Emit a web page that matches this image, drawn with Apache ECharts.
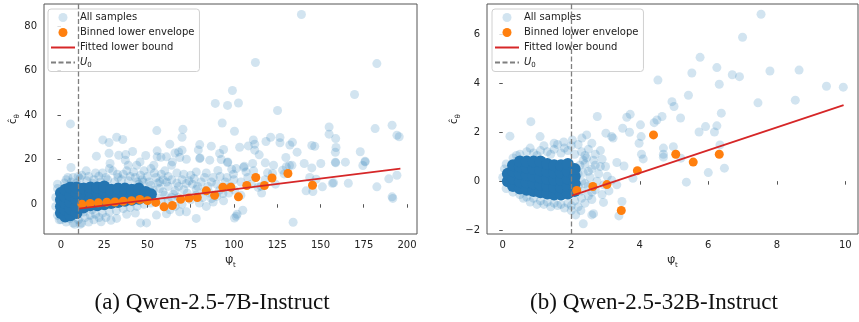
<!DOCTYPE html>
<html>
<head>
<meta charset="utf-8">
<script src="https://cdn.jsdelivr.net/npm/echarts@6/dist/echarts.min.js"></script>
<style>
  html, body { margin: 0; padding: 0; background: #fff; }
  #chart { width: 859px; height: 322px; }
</style>
</head>
<body>
<div id="chart"></div>
<script>
// ---- (a) Qwen-2.5-7B-Instruct ----
const xTicksA = [0, 25, 50, 75, 100, 125, 150, 175, 200];
const yTicksA = [0, 20, 40, 60, 80];
const u0A = 10;
// lower envelope (bin centre, lower value)
const envelopeA = [
  [12.1, 0.0], [16.9, 0.3], [21.6, 0.6], [26.5, 0.9], [31.2, 1.0], [36.0, 1.3], [40.8, 1.6],
  [45.6, 2.1], [50.0, 1.6], [54.8, 0.8], [59.6, -1.2], [64.4, -0.6], [69.2, 2.2], [74.0, 2.8],
  [78.8, 3.0], [84.0, 6.0], [88.8, 4.0], [93.6, 7.6], [98.2, 7.6], [102.6, 3.3], [107.4, 8.4],
  [112.6, 12.0], [117.6, 8.4], [122.0, 11.8], [131.2, 13.8], [145.4, 8.5]
];
const fitA = [[10.3, -2.0], [196.2, 16.0]];
// dense core of the sample cloud
const coreA = [
  [0, -4], [0, -1], [0, 2], [0, 5],
  [2.5, -5.5], [2.5, -2.5], [2.5, 0.5], [2.5, 3.5], [2.5, 6.5],
  [5.5, -5], [5.5, -2], [5.5, 1], [5.5, 4], [5.5, 7.5],
  [9, -4], [9, -1], [9, 2], [9, 5], [9, 7.5],
  [13, -1.5], [13, 1.5], [13, 4.5], [13, 7],
  [17, -0.5], [17, 2.5], [17, 5.5], [17, 7.5],
  [21, -0.5], [21, 2.5], [21, 5.5], [21, 7.5],
  [25, 0], [25, 3], [25, 6], [25, 8],
  [29, 0.5], [29, 3.5], [29, 6.5],
  [33, 1], [33, 4], [33, 7],
  [37, 1.5], [37, 4.5], [37, 7],
  [41, 2], [41, 4.5], [41, 6.5],
  [45, 2.5], [45, 5], [45, 7],
  [49, 3], [49, 5.5], [52, 4.5]
];
const samplesA = [
  [139, 85.3], [112.4, 63.7], [182.6, 63.2], [99.1, 51.1], [169.7, 49.3], [89.2, 45.3], [96.3, 44.4],
  [102.6, 45.5], [125.2, 42.1], [5.5, 36.1], [93.2, 36.5], [100.3, 32.8], [55.4, 33.1], [70.5, 33.7],
  [155, 34.7], [191.4, 35.5], [181.6, 34], [155, 31.5], [194.2, 31], [158.8, 29.5], [195.5, 30.3],
  [24.2, 28.9], [27.8, 27.7], [32.2, 30.1], [35.7, 29.1], [70, 30.1], [70, 24.3], [62.9, 27], [55.6, 24],
  [86.9, 26.1], [94, 24.6], [103.3, 25.6], [108.3, 26.2], [111.2, 28.9], [112, 27], [112, 24.3],
  [114.6, 22.2], [118.5, 28.2], [121.2, 30.1], [126.6, 30], [126.6, 27.6], [132.3, 26.6], [133.8, 27.8],
  [136.5, 23.4], [145, 26.4], [146.7, 26], [158.6, 23.3], [159, 25.5], [173, 23.6], [130, 21],
  [20.5, 21.6], [27.8, 22.9], [37.4, 22.3], [41.4, 23.7], [49, 21.9], [55.6, 21.3], [57.8, 21.1],
  [65.9, 23], [68, 23.5], [80.2, 26.8], [79.4, 24.4], [80.4, 20.8],
  [118.1, 18.6], [122.9, 17.5], [96.3, 18.7], [132.1, 17.4], [130.2, 16.8], [140.6, 18.3], [145, 16.3],
  [158.8, 18.6], [175.8, 19], [174.5, 17.4], [105.6, 16.6], [98.7, 15.7], [107, 14.5], [111.4, 15],
  [119.4, 14.1], [129, 13.6], [143.8, 12], [147.5, 11.2], [189.5, 11.4], [156.9, 9.4], [166.1, 9.4],
  [151.1, 7.8], [182.6, 7.8], [141.7, 6], [145.6, 5.7], [191.4, 3.3], [191.8, 2.6], [115.6, 8.1],
  [113.9, 7.6], [100.3, 6.3], [100.3, -6.2], [101.8, -4.5], [134.2, -8.1],
  [5.8, 16.5], [33.4, 22], [28.4, 18.3], [14.6, 15], [21.9, 12.6], [18.6, 9.3], [32.6, 13.5],
  [37.2, 19.8], [38.9, 17.5], [43.8, 17.5], [45.7, 19], [53.7, 17.5], [61, 21.3], [63.9, 17.5],
  [64.4, 19], [68.7, 21], [72.5, 20.2], [80.2, 20.5], [86, 19.8], [91.7, 22.8], [92.6, 20.1],
  [96.4, 19], [101.3, 16], [106, 17.1], [110.8, 18.3], [78.2, 14.5], [84, 14], [90.7, 15.2],
  [99.7, 13.5], [72.5, 9.3], [78.2, 6.6], [57.1, 10], [47.5, 10], [53.3, 6.3], [91.7, 6.3],
  [93.6, 4.8], [68.6, -3.4], [72.5, -3.4], [78.2, -6.4], [61, -4.3], [55.2, -4.9], [49.5, -8.4],
  [46, -8.4], [32.2, -6.4], [23.2, -7.9], [28.9, -7.2], [11.1, -9], [101.3, -5.4], [105.1, -2.7],
  [194.2, 13], [157.6, 9.6], [158.6, 18.9], [164.4, 18.9], [175.8, 19.3], [150.2, 18.3],
  [133.5, 17.5], [128.1, 15.3], [122.3, 13.8],
  [3, 11], [7, 12], [11, 11.5], [15, 10.5], [19, 11], [23, 10], [27, 11], [31, 10], [35, 11],
  [39, 10.5], [43, 12], [47, 11], [51, 10], [55, 12], [59, 11], [24, 14], [30, 15], [36, 13.5],
  [42, 14.5], [48, 15], [54, 14], [60, 15], [45, 9], [52, 8.5], [57, 7], [60, 4], [62, 8], [58, 1],
  [64, 3], [66, 6], [70, 11], [73, 5], [75, 13], [62, 12.5], [67, 14], [81, 10], [85, 8], [88, 12],
  [76, 9], [82, 3], [86, 5], [95, 10], [98, 8], [104, 10], [108, 12], [104, 4], [110, 9], [118, 11],
  [124, 9], [116, 5], [88, 1], [84, -1], [94, 1.5], [70, 0], [66, -1], [63, -2.5],
  [0, -7], [3, -8], [7, -8.5], [10, -7], [14, -6], [17, -5], [20, -4.5], [24, -4], [28, -3.5],
  [32, -3], [36, -2], [40, -1.5], [44, -1], [48, 0], [52, 0.5], [13, -3.5], [18, -2.5], [-2, -5],
  [-3, 3], [-2, 7], [2, 9.5], [6, 10], [9, 9.5], [38, -4.5], [43, -4], [16, -8], [26, -6],
  [12, 13], [16, 12.5], [20, 14], [26, 12], [28, 16], [33, 12], [38, 15], [40, 12.5], [44, 10],
  [46, 13], [50, 12.5], [52, 16], [56, 9.5], [58, 13.5], [61, 10], [64, 11], [68, 8], [71, 13.5],
  [74, 10.5], [77, 11.5], [79, 8], [83, 12], [87, 10], [90, 9], [92, 12.5], [96, 12], [100, 11],
  [55, 3], [59, 5.5], [62, 1.5], [65, 4.5], [68, 3], [71, 6.5], [75, 2], [78, 4], [80, 0.5],
  [83, 6], [87, 2.5], [90, 3.5], [97, 5], [67, 9.5], [-1, -7], [5, -6.5], [8, -9], [12, -8.5],
  [19, -7], [22, -6], [-3, -1], [-2, 9], [4, 12], [10, 12.5]
];

// ---- (b) Qwen-2.5-32B-Instruct ----
const xTicksB = [0, 2, 4, 6, 8, 10];
const yTicksB = [-2, 0, 2, 4, 6];
const u0B = 2;
const envelopeB = [
  [2.16, -0.38], [2.63, -0.22], [3.04, -0.14], [3.46, -1.2], [3.93, 0.43], [4.40, 1.89],
  [5.05, 1.10], [5.56, 0.78], [6.32, 1.10]
];
const fitB = [[2.02, -0.59], [9.95, 3.11]];
const coreB = [
  [0.15, 0.0], [0.15, 0.3],
  [0.3, -0.2], [0.3, 0.1], [0.3, 0.4], [0.3, 0.65],
  [0.5, -0.3], [0.5, 0.0], [0.5, 0.3], [0.5, 0.6], [0.5, 0.8],
  [0.7, -0.35], [0.7, -0.05], [0.7, 0.25], [0.7, 0.55], [0.7, 0.8],
  [0.9, -0.4], [0.9, -0.1], [0.9, 0.2], [0.9, 0.5], [0.9, 0.8],
  [1.1, -0.45], [1.1, -0.15], [1.1, 0.15], [1.1, 0.45], [1.1, 0.8],
  [1.3, -0.5], [1.3, -0.2], [1.3, 0.1], [1.3, 0.4], [1.3, 0.7],
  [1.5, -0.55], [1.5, -0.25], [1.5, 0.05], [1.5, 0.35], [1.5, 0.65],
  [1.7, -0.55], [1.7, -0.25], [1.7, 0.05], [1.7, 0.35], [1.7, 0.65],
  [1.9, -0.5], [1.9, -0.2], [1.9, 0.1], [1.9, 0.4], [1.9, 0.7],
  [2.1, -0.4], [2.1, -0.1], [2.1, 0.2], [2.1, 0.5]
];
const samplesB = [
  [7.54, 6.82], [7.0, 5.88], [5.76, 5.06], [4.53, 4.13], [5.52, 4.42], [6.25, 4.64], [6.70, 4.35],
  [6.91, 4.27], [7.80, 4.5], [8.65, 4.54], [6.32, 3.96], [5.42, 3.51], [4.94, 3.25], [5.0, 3.05],
  [7.45, 3.2], [8.54, 3.31], [9.45, 3.88], [9.94, 3.84], [6.38, 2.78], [5.92, 2.23], [5.73, 2.01],
  [6.18, 2.01], [6.25, 2.26], [5.19, 2.58], [4.65, 2.64], [4.42, 2.39], [4.5, 2.5], [3.72, 2.73],
  [3.62, 2.61], [2.76, 2.64], [4.02, 2.3], [3.5, 2.16], [3.70, 2.0], [3.18, 1.82], [3.22, 1.76],
  [3.01, 1.96], [2.45, 1.89], [2.31, 1.76], [0.21, 1.84], [0.82, 2.43], [1.09, 1.82], [1.78, 1.6],
  [2.03, 1.68], [4.04, 1.82], [3.98, 1.55], [4.69, 1.35], [4.98, 1.41], [6.34, 1.48], [4.05, 1.1],
  [4.69, 1.1], [4.1, 0.91], [4.69, 0.98], [5.2, 0.94], [6.0, 0.35], [6.47, 0.53], [5.36, -0.04],
  [3.8, 0.12], [3.54, 0.62], [3.33, 0.76], [3.48, -0.83], [2.94, -0.87], [2.65, -1.33], [2.35, -1.74],
  [3.39, -1.42], [2.13, -1.38], [2.28, -1.2], [3.33, -0.15], [3.18, 0.04], [2.6, -1.38],
  [0.3, 0.95], [0.5, 1.1], [0.7, 1.2], [0.9, 1.15], [1.1, 1.25], [1.3, 1.2], [1.5, 1.3], [1.7, 1.15],
  [1.9, 1.25], [2.1, 1.1], [2.3, 1.2], [2.5, 1.3], [2.7, 1.1], [1.2, 1.45], [1.6, 1.5], [2.2, 1.5],
  [2.6, 1.55], [0.1, 0.7], [2.9, 0.9], [3.0, 0.6], [2.85, 1.25],
  [0.1, -0.3], [0.3, -0.45], [0.5, -0.55], [0.7, -0.65], [0.9, -0.7], [1.1, -0.8], [1.3, -0.85],
  [1.5, -0.9], [1.7, -0.95], [1.9, -0.9], [2.1, -0.8], [2.3, -0.7], [2.5, -0.6], [1.4, -1.05],
  [1.8, -1.1], [2.2, -1.05], [1.0, -0.95], [2.0, -1.2],
  [2.3, -0.4], [2.3, 0.0], [2.35, 0.35], [2.4, 0.7], [2.5, -0.2], [2.55, 0.15], [2.6, 0.5],
  [2.65, 0.85], [2.7, -0.35], [2.75, 0.0], [2.8, 0.3], [2.85, 0.6], [2.95, -0.15], [3.05, 0.2],
  [2.45, 0.95], [2.2, 0.3], [2.2, -0.2], [2.25, 0.65], [3.1, -0.4], [2.9, -0.55],
  [0.4, 1.05], [0.8, 1.35], [1.0, 1.05], [1.4, 1.1], [1.8, 1.35], [2.0, 1.45], [2.4, 1.05],
  [1.5, 1.55], [0.6, -0.7], [0.8, -0.85], [1.2, -0.95], [1.6, -1.0], [2.4, -0.9], [2.6, -0.75],
  [2.0, -1.0], [0.05, 0.5], [0.0, 0.15], [2.4, -0.1], [2.5, 0.4], [2.7, 0.65], [2.6, -0.45], [2.35, 0.85]
];

const legendNames = ['All samples', 'Binned lower envelope', 'Fitted lower bound', 'U0'];
const captions = ['(a) Qwen-2.5-7B-Instruct', '(b) Qwen-2.5-32B-Instruct'];

const COLORS = {
  sample: '#1f77b4',
  core: '#2475b1',
  envelope: '#ff7f0e',
  fit: '#d62728',
  u0: '#7f7f7f',
  spine: '#555',
  text: '#222'
};
const FONT = '"DejaVu Sans", sans-serif';

const fmtTick = v => String(v).replace('-', '\u2212');

function xAxisOf(gridIndex, min, max, ticks) {
  return {
    type: 'value', gridIndex, min, max,
    name: '{a|\u03A8\u0302}{s|t}',
    nameLocation: 'middle', nameGap: 22,
    nameTextStyle: {
      rich: {
        a: { fontFamily: FONT, fontSize: 10, color: COLORS.text },
        s: { fontFamily: FONT, fontSize: 7, color: COLORS.text, padding: [6, 0, 0, 0] }
      }
    },
    axisLine: { show: false },
    axisTick: { show: true, customValues: ticks, length: 3.5, lineStyle: { color: COLORS.spine } },
    axisLabel: { customValues: ticks, fontFamily: FONT, fontSize: 10, color: COLORS.text, margin: 6, formatter: fmtTick },
    splitLine: { show: false }
  };
}

function yAxisOf(gridIndex, min, max, ticks) {
  return {
    type: 'value', gridIndex, min, max,
    name: '{a|\u0109}{s|\u03B8}',
    nameLocation: 'middle', nameGap: 23,
    nameTextStyle: {
      rich: {
        a: { fontFamily: FONT, fontSize: 10, color: COLORS.text },
        s: { fontFamily: FONT, fontSize: 7, color: COLORS.text, padding: [6, 0, 0, 0] }
      }
    },
    axisLine: { show: false },
    axisTick: { show: true, customValues: ticks, length: 3.5, lineStyle: { color: COLORS.spine } },
    axisLabel: { customValues: ticks, fontFamily: FONT, fontSize: 10, color: COLORS.text, margin: 7, formatter: fmtTick },
    splitLine: { show: false }
  };
}

function seriesOf(idx, samples, core, envelope, fit, u0) {
  return [
    {
      name: 'All samples', type: 'scatter', xAxisIndex: idx, yAxisIndex: idx,
      data: samples, symbolSize: 9, silent: true,
      itemStyle: { color: COLORS.sample, opacity: 0.2 }
    },
    {
      name: 'core', type: 'scatter', xAxisIndex: idx, yAxisIndex: idx,
      data: core, symbolSize: 12, silent: true,
      itemStyle: { color: COLORS.core, opacity: 1 }
    },
    {
      name: 'Binned lower envelope', type: 'scatter', xAxisIndex: idx, yAxisIndex: idx,
      data: envelope, symbolSize: 9, silent: true,
      itemStyle: { color: COLORS.envelope, opacity: 1 }
    },
    {
      name: 'Fitted lower bound', type: 'line', xAxisIndex: idx, yAxisIndex: idx,
      data: fit, symbol: 'none', silent: true,
      lineStyle: { color: COLORS.fit, width: 1.8 }, itemStyle: { color: COLORS.fit }
    },
    {
      name: 'U0', type: 'line', xAxisIndex: idx, yAxisIndex: idx,
      data: [], symbol: 'none',
      lineStyle: { color: COLORS.u0, width: 1.3, type: [5, 2.5] }, itemStyle: { color: COLORS.u0 },
      markLine: {
        silent: true, symbol: 'none', label: { show: false },
        lineStyle: { color: COLORS.u0, width: 1.3, type: [5, 2.5] },
        data: [{ xAxis: u0 }]
      }
    }
  ];
}

function legendOf(left) {
  return {
    left, top: 9, orient: 'vertical',
    data: legendNames.map(n => (n === 'Fitted lower bound' || n === 'U0')
      ? { name: n, itemStyle: { opacity: 0 } }
      : { name: n }),
    selectedMode: false,
    itemWidth: 24, itemHeight: 9, itemGap: 4,
    padding: [3, 5, 3, 2],
    backgroundColor: 'rgba(255,255,255,0.8)',
    borderColor: '#d0d0d0', borderWidth: 1, borderRadius: 3,
    formatter: n => n === 'U0' ? '{u|U}{s|0}' : n,
    textStyle: {
      fontFamily: FONT, fontSize: 10, color: COLORS.text, lineHeight: 11,
      rich: {
        u: { fontFamily: FONT, fontSize: 10, fontStyle: 'italic', color: COLORS.text },
        s: { fontFamily: FONT, fontSize: 7, color: COLORS.text, padding: [5, 0, 0, 0] }
      }
    }
  };
}

const chart = echarts.init(document.getElementById('chart'), null, { renderer: 'canvas' });

chart.setOption({
  animation: false,
  backgroundColor: '#fff',
  grid: [
    { left: 44, top: 4, width: 373, height: 230, show: true, borderColor: COLORS.spine, borderWidth: 1, backgroundColor: 'transparent' },
    { left: 487, top: 4, width: 371, height: 230, show: true, borderColor: COLORS.spine, borderWidth: 1, backgroundColor: 'transparent' }
  ],
  xAxis: [xAxisOf(0, -9.8, 205.8, xTicksA), xAxisOf(1, -0.46, 10.37, xTicksB)],
  yAxis: [yAxisOf(0, -13.4, 90, yTicksA), yAxisOf(1, -2.16, 7.24, yTicksB)],
  legend: [legendOf(48), legendOf(492)],
  series: [
    ...seriesOf(0, samplesA, coreA, envelopeA, fitA, u0A),
    ...seriesOf(1, samplesB, coreB, envelopeB, fitB, u0B)
  ],
  graphic: [
    { type: 'text', x: 212, y: 303, style: { text: captions[0], font: '23px "Liberation Serif", serif', fill: '#111', textAlign: 'center', textVerticalAlign: 'middle' } },
    { type: 'text', x: 654, y: 303, style: { text: captions[1], font: '23px "Liberation Serif", serif', fill: '#111', textAlign: 'center', textVerticalAlign: 'middle' } }
  ]
});
</script>
</body>
</html>
